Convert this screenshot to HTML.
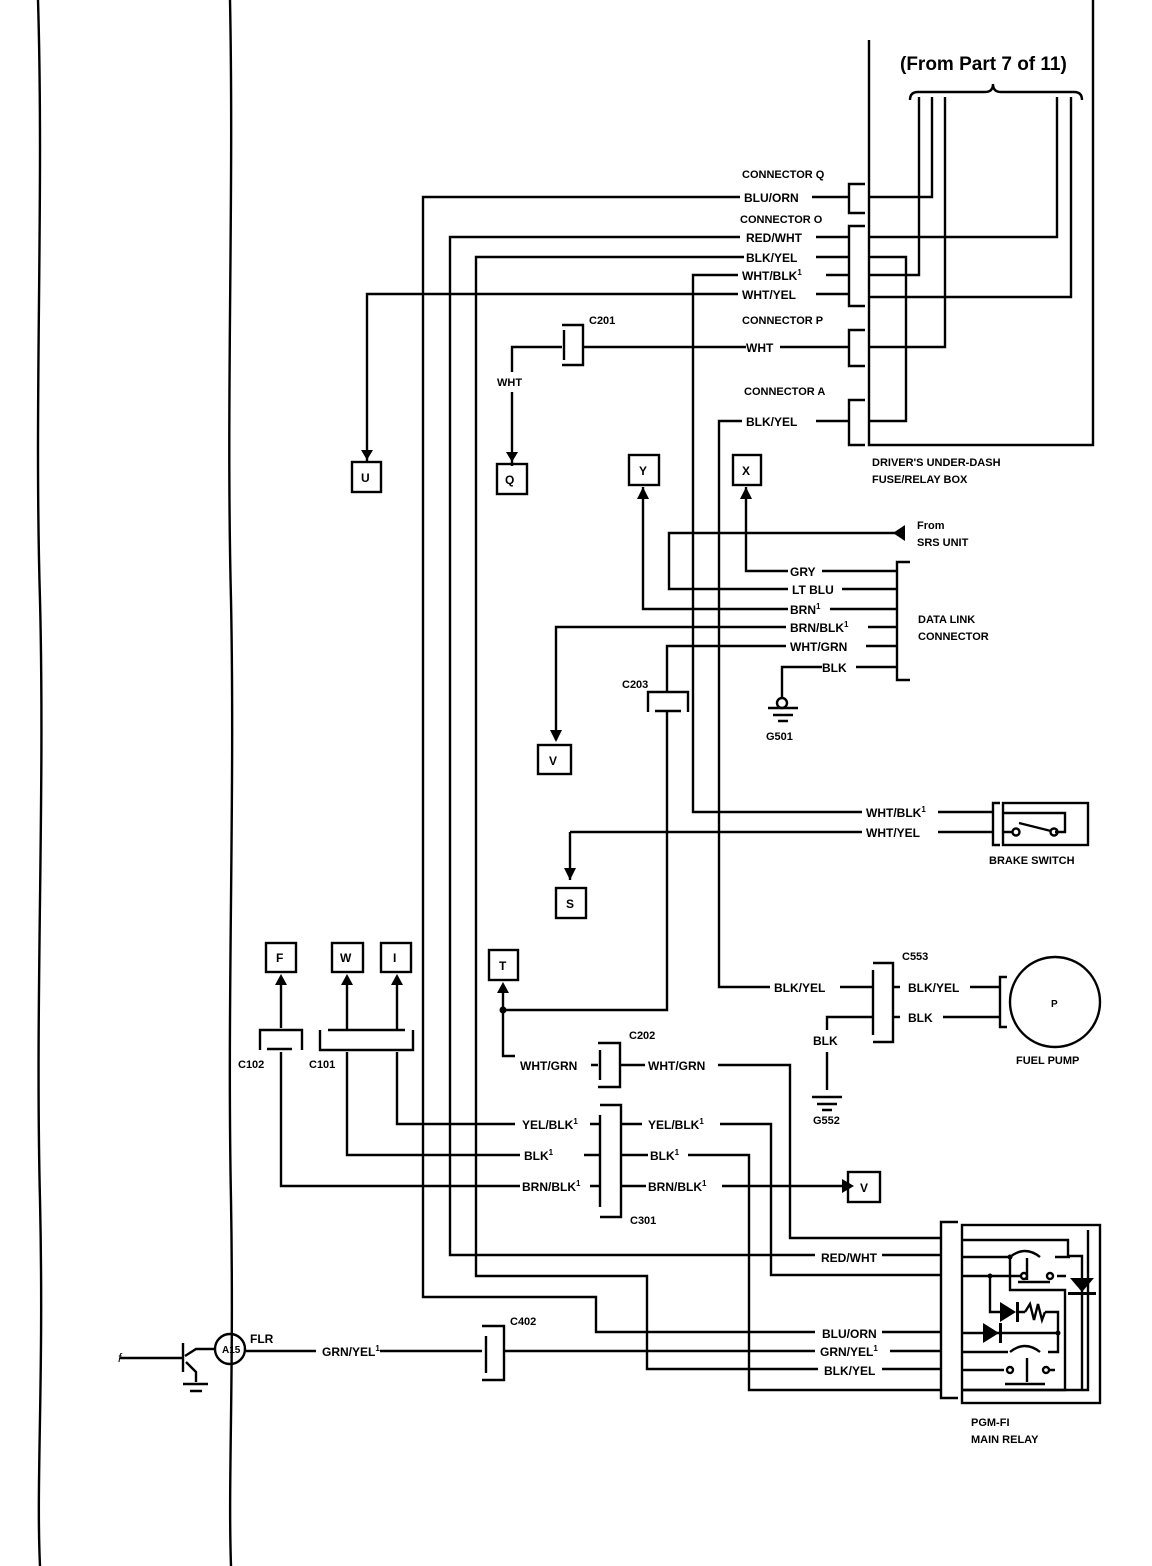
<!DOCTYPE html>
<html><head><meta charset="utf-8"><style>
html,body{margin:0;padding:0;background:#fff}
svg{display:block}
text{font-family:"Liberation Sans",Arial,sans-serif;font-weight:bold;font-size:12px;fill:#000}
</style></head><body>
<svg width="1152" height="1566" viewBox="0 0 1152 1566" xmlns="http://www.w3.org/2000/svg">
<g fill="none" stroke="#000" stroke-width="2.4">
<path d="M38 0 C44 200 34 400 40 600 C45 800 35 1000 40 1200 C44 1380 36 1480 40 1566"/>
<path d="M230 0 C234 200 226 400 231 600 C235 800 227 1000 231 1200 C234 1380 228 1480 231 1566"/>
<path d="M869 40 V445 H1093 V0"/>
<path d="M910 100 Q910 92 918 92 H985 Q993 92 993 84 Q993 92 1001 92 H1074 Q1082 92 1082 100"/>
<path d="M932 97 V197 H869"/>
<path d="M1057 97 V237 H869"/>
<path d="M919 97 V275 H869"/>
<path d="M1071 97 V297 H869"/>
<path d="M945 97 V347 H869"/>
<path d="M869 257 H906 V421 H869"/>
<path d="M865 184 H849 V213 H865"/>
<path d="M865 226 H849 V306 H865"/>
<path d="M865 330 H849 V366 H865"/>
<path d="M865 400 H849 V445 H865"/>
<path d="M849 197 H812 M740 197 H423 V1297 H596 V1332 H815 M882 1332 H940"/>
<path d="M849 237 H816 M740 237 H450 V1255 H815 M882 1255 H940"/>
<path d="M849 257 H816 M744 257 H476 V1276 H647 V1369 H818 M882 1369 H940"/>
<path d="M849 275 H826 M738 275 H693 V812 H862 M938 812 H993"/>
<path d="M849 294 H816 M738 294 H367 V462"/>
<path d="M849 347 H780 M746 347 H583"/>
<path d="M849 421 H816 M742 421 H719 V987 H770 M840 987 H873"/>
<path d="M562 325 H583 V365 H562"/>
<path d="M564 330 V360"/>
<path d="M562 347 H512 V372 M512 392 V466"/>
<rect x="352" y="462" width="29" height="30"/>
<rect x="497" y="464" width="30" height="30"/>
<rect x="629" y="455" width="30" height="30"/>
<rect x="733" y="455" width="28" height="30"/>
<rect x="538" y="745" width="33" height="29"/>
<rect x="556" y="888" width="30" height="30"/>
<rect x="266" y="943" width="30" height="29"/>
<rect x="332" y="943" width="31" height="29"/>
<rect x="381" y="943" width="30" height="29"/>
<rect x="489" y="950" width="29" height="30"/>
<rect x="848" y="1172" width="32" height="30"/>
<path d="M643 487 V609 H788"/>
<path d="M746 487 V571 H788 M822 571 H897"/>
<path d="M897 533 H669 V589 H788 M842 589 H897"/>
<path d="M830 609 H897"/>
<path d="M786 627 H556 V740"/>
<path d="M868 627 H897"/>
<path d="M786 646 H667 V692"/>
<path d="M866 646 H897"/>
<path d="M822 667 H782 V697 M856 667 H897"/>
<path d="M910 562 H897 V680 H910"/>
<path d="M648 712 V692 H688 V712"/>
<path d="M655 711 H681"/>
<path d="M667 712 V1010 H503"/>
<circle cx="782" cy="703" r="5"/>
<path d="M768 708 H798 M773 715 H793 M778 721 H788"/>
<path d="M570 832 V880 M570 832 H862 M938 832 H993"/>
<path d="M1000 803 H993 V845 H1000"/>
<rect x="1003" y="803" width="85" height="42"/>
<path d="M1003 813 H1065 V832 H1055 M1003 832 H1012"/>
<circle cx="1016" cy="832" r="3.5"/><circle cx="1054" cy="832" r="3.5"/>
<path d="M1019 823 L1051 831"/>
<path d="M873 963 H893 V1042 H873"/>
<path d="M873 970 V1035"/>
<path d="M893 987 H900 M970 987 H1000 M893 1017 H900 M943 1017 H1000"/>
<path d="M873 1017 H827 V1030 M827 1052 V1090"/>
<path d="M1007 977 H1000 V1027 H1007"/>
<circle cx="1055" cy="1002" r="45"/>
<path d="M812 1097 H842 M817 1104 H837 M822 1110 H832"/>
<path d="M281 985 V1028 M347 985 V1030 M397 985 V1030 M503 993 V1056 H515"/>
<path d="M260 1050 V1030 H302 V1050 M267 1049 H292"/>
<path d="M320 1050 V1030 V1050 H413 V1030 M328 1030 H405"/>
<path d="M281 1052 V1186 H520 M347 1052 V1155 H520 M397 1052 V1124 H515"/>
<path d="M590 1124 H600 M584 1155 H600 M590 1186 H600"/>
<path d="M598 1043 H620 V1087 H598 M600 1050 V1080"/>
<path d="M591 1065 H598 M620 1065 H645 M718 1065 H790 V1238 H940"/>
<path d="M600 1115 V1207 M600 1105 H621 V1217 H600"/>
<path d="M621 1124 H642 M720 1124 H771 V1275 H940"/>
<path d="M621 1155 H648 M688 1155 H749 V1390 H940"/>
<path d="M621 1186 H646 M722 1186 H842"/>
<path d="M246 1351 H316 M380 1351 H482 M486 1336 V1373 M482 1326 H504 V1380 H482 M504 1351 H815 M890 1351 H940"/>
<circle cx="230" cy="1349" r="15"/>
<path d="M215 1349 H196 L185 1356 M183 1343 V1372 M120 1358 H183 M186 1362 L196 1372 V1382 M183 1384 H208 M190 1391 H202"/>
<path d="M958 1222 H941 V1398 H958"/>
<rect x="962" y="1225" width="138" height="178"/>
<path d="M962 1240 H1068 V1256 H1082 V1300"/>
<path d="M962 1257 H1010 M1055 1257 H1070"/>
<path d="M962 1276 H1020 M1057 1276 H1066"/>
<path d="M1010 1257 V1290 H1065 V1390 H962"/>
<path d="M990 1276 V1312 H1000 M1018 1312 H1025 M1045 1312 H1058 V1333 H962"/>
<path d="M962 1352 H1008 M1048 1352 H1058 V1333"/>
<path d="M962 1370 H1004 M1050 1370 H1055"/>
<path d="M1082 1300 V1390 M962 1390 H1088 V1230"/>
<path d="M1018 1282 H1050 M1005 1384 H1045 M1027 1258 V1280 M1027 1358 V1382"/>
<path d="M1010 1257 Q1025 1245 1040 1257 M1010 1352 Q1025 1340 1040 1352"/>
<circle cx="1024" cy="1276" r="3"/><circle cx="1050" cy="1276" r="3"/>
<circle cx="1010" cy="1370" r="3"/><circle cx="1046" cy="1370" r="3"/>
<path d="M1025 1312 L1030 1304 L1034 1320 L1038 1304 L1042 1320 L1045 1312"/>
</g>
<g fill="#000" stroke="none">
<polygon points="361,450 373,450 367,460"/>
<polygon points="506,452 518,452 512,462"/>
<polygon points="637,499 649,499 643,487"/>
<polygon points="740,499 752,499 746,487"/>
<polygon points="550,730 562,730 556,742"/>
<polygon points="564,868 576,868 570,880"/>
<polygon points="275,985 287,985 281,974"/>
<polygon points="341,985 353,985 347,974"/>
<polygon points="391,985 403,985 397,974"/>
<polygon points="497,993 509,993 503,982"/>
<polygon points="905,525 905,541 893,533"/>
<polygon points="842,1179 842,1193 854,1186"/>
<circle cx="503" cy="1010" r="3.5"/>
<circle cx="1010" cy="1257" r="2.5"/><circle cx="990" cy="1276" r="2.5"/><circle cx="1058" cy="1333" r="2.5"/>
<polygon points="1070,1278 1094,1278 1082,1292"/><rect x="1068" y="1292" width="28" height="3"/>
<polygon points="1000,1302 1000,1322 1016,1312"/><rect x="1016" y="1302" width="3" height="20"/>
<polygon points="983,1323 983,1343 999,1333"/><rect x="999" y="1323" width="3" height="20"/>
</g>
<text x="900" y="70" style="font-size:19px">(From Part 7 of 11)</text>
<text x="742" y="178" style="font-size:11px">CONNECTOR Q</text>
<text x="744" y="202">BLU/ORN</text>
<text x="740" y="223" style="font-size:11px">CONNECTOR O</text>
<text x="746" y="242">RED/WHT</text>
<text x="746" y="262">BLK/YEL</text>
<text x="742" y="280">WHT/BLK<tspan dy="-5" style="font-size:8px">1</tspan></text>
<text x="742" y="299">WHT/YEL</text>
<text x="742" y="324" style="font-size:11px">CONNECTOR P</text>
<text x="746" y="352">WHT</text>
<text x="744" y="395" style="font-size:11px">CONNECTOR A</text>
<text x="746" y="426">BLK/YEL</text>
<text x="872" y="466" style="font-size:11px">DRIVER'S UNDER-DASH</text>
<text x="872" y="483" style="font-size:11px">FUSE/RELAY BOX</text>
<text x="589" y="324" style="font-size:11px">C201</text>
<text x="497" y="386" style="font-size:11px">WHT</text>
<text x="361" y="482">U</text><text x="505" y="484">Q</text><text x="639" y="475">Y</text><text x="742" y="475">X</text>
<text x="549" y="765">V</text><text x="566" y="908">S</text><text x="276" y="962">F</text><text x="340" y="962">W</text><text x="393" y="962">I</text><text x="499" y="970">T</text><text x="860" y="1192">V</text>
<text x="917" y="529" style="font-size:11px">From</text>
<text x="917" y="546" style="font-size:11px">SRS UNIT</text>
<text x="790" y="576">GRY</text>
<text x="792" y="594">LT BLU</text>
<text x="790" y="614">BRN<tspan dy="-5" style="font-size:8px">1</tspan></text>
<text x="790" y="632">BRN/BLK<tspan dy="-5" style="font-size:8px">1</tspan></text>
<text x="790" y="651">WHT/GRN</text>
<text x="822" y="672">BLK</text>
<text x="918" y="623" style="font-size:11px">DATA LINK</text>
<text x="918" y="640" style="font-size:11px">CONNECTOR</text>
<text x="622" y="688" style="font-size:11px">C203</text>
<text x="766" y="740" style="font-size:11px">G501</text>
<text x="866" y="817">WHT/BLK<tspan dy="-5" style="font-size:8px">1</tspan></text>
<text x="866" y="837">WHT/YEL</text>
<text x="989" y="864" style="font-size:11px">BRAKE SWITCH</text>
<text x="902" y="960" style="font-size:11px">C553</text>
<text x="774" y="992">BLK/YEL</text>
<text x="908" y="992">BLK/YEL</text>
<text x="908" y="1022">BLK</text>
<text x="813" y="1045">BLK</text>
<text x="1051" y="1007" style="font-size:10px">P</text>
<text x="1016" y="1064" style="font-size:11px">FUEL PUMP</text>
<text x="813" y="1124" style="font-size:11px">G552</text>
<text x="629" y="1039" style="font-size:11px">C202</text>
<text x="520" y="1070">WHT/GRN</text>
<text x="648" y="1070">WHT/GRN</text>
<text x="238" y="1068" style="font-size:11px">C102</text>
<text x="309" y="1068" style="font-size:11px">C101</text>
<text x="522" y="1129">YEL/BLK<tspan dy="-5" style="font-size:8px">1</tspan></text>
<text x="524" y="1160">BLK<tspan dy="-5" style="font-size:8px">1</tspan></text>
<text x="522" y="1191">BRN/BLK<tspan dy="-5" style="font-size:8px">1</tspan></text>
<text x="648" y="1129">YEL/BLK<tspan dy="-5" style="font-size:8px">1</tspan></text>
<text x="650" y="1160">BLK<tspan dy="-5" style="font-size:8px">1</tspan></text>
<text x="648" y="1191">BRN/BLK<tspan dy="-5" style="font-size:8px">1</tspan></text>
<text x="630" y="1224" style="font-size:11px">C301</text>
<text x="821" y="1262">RED/WHT</text>
<text x="510" y="1325" style="font-size:11px">C402</text>
<text x="822" y="1338">BLU/ORN</text>
<text x="820" y="1356">GRN/YEL<tspan dy="-5" style="font-size:8px">1</tspan></text>
<text x="824" y="1375">BLK/YEL</text>
<text x="250" y="1343">FLR</text>
<text x="222" y="1353" style="font-size:10px">A15</text>
<text x="322" y="1356">GRN/YEL<tspan dy="-5" style="font-size:8px">1</tspan></text>
<text x="971" y="1426" style="font-size:11px">PGM-FI</text>
<text x="971" y="1443" style="font-size:11px">MAIN RELAY</text>
<text x="118" y="1362" style="font-weight:normal;font-style:italic">f</text>
</svg>
</body></html>
